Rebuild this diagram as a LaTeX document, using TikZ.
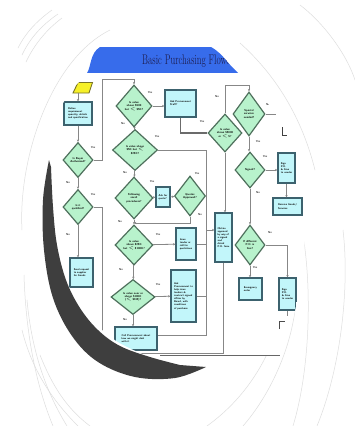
\documentclass[tikz,border=0pt]{standalone}
\usetikzlibrary{arrows.meta,shapes.geometric}
\definecolor{hdr}{RGB}{55,108,235}
\definecolor{hdrtxt}{RGB}{30,32,85}
\definecolor{dfill}{RGB}{184,242,204}
\definecolor{ddraw}{RGB}{78,112,92}
\definecolor{bfill}{RGB}{194,246,250}
\definecolor{bdraw}{RGB}{60,98,110}
\definecolor{lne}{RGB}{135,135,135}
\definecolor{shadowc}{RGB}{62,62,62}
\definecolor{faint}{RGB}{222,222,222}
\definecolor{ylw}{RGB}{246,240,40}
\definecolor{ylwd}{RGB}{120,115,40}
\newcommand{\tinyfnt}{\fontsize{2.6}{3.1}\selectfont\sffamily\bfseries}
\newcommand{\dfnt}{\fontsize{2.8}{3.3}\selectfont\sffamily\bfseries}
\newcommand{\lblfnt}{\fontsize{2.8}{3.2}\selectfont\sffamily\bfseries}
\tikzset{
  dia/.style={diamond, draw=ddraw, fill=dfill, line width=1.2pt, inner sep=0pt, align=center, font=\dfnt},
  bx/.style={rectangle, draw=bdraw, fill=bfill, line width=1.1pt, inner sep=1pt, align=left, font=\tinyfnt},
  con/.style={draw=lne, line width=0.8pt},
  arr/.style={con, -{Stealth[length=2.4pt,width=2.2pt]}},
  lbl/.style={font=\lblfnt, inner sep=0pt, text=black!80},
  farc/.style={draw=faint, line width=0.5pt},
}
\begin{document}
\begin{tikzpicture}[x=1pt,y=-1pt]
\useasboundingbox (0,0) rectangle (355,426);
\fill[white] (0,0) rectangle (355,426);
% faint background arcs
\draw[farc] (18,48) .. controls (26,32) and (38,20) .. (52,10);
\draw[farc] (22,55) .. controls (30,38) and (42,25) .. (58,14);
\draw[farc] (26,62) .. controls (34,45) and (46,30) .. (62,18);
\draw[farc] (22,230) .. controls (18,160) and (50,60) .. (110,30);
\draw[farc] (300,5) .. controls (320,20) and (345,50) .. (355,80);
\draw[farc] (240,43) .. controls (270,70) and (300,110) .. (315,170);
\draw[farc] (207,426) .. controls (250,395) and (275,350) .. (285,300);
\draw[farc] (243,426) .. controls (270,395) and (290,350) .. (295,310);
\draw[farc] (293,426) .. controls (310,370) and (312,290) .. (303,235);
\draw[farc] (317,426) .. controls (340,370) and (350,290) .. (343,230);
\draw[farc] (24,275) .. controls (26,340) and (38,390) .. (53,426);
\draw[farc] (27,300) .. controls (32,355) and (48,395) .. (67,426);
\draw[farc] (22,330) .. controls (32,370) and (52,400) .. (78,426);
\draw[farc] (40,355) .. controls (52,385) and (66,408) .. (90,426);
% picture
\begin{scope}
\clip plot[smooth, tension=0.6] coordinates {(280,355) (290,330) (298,295) (304,250) (306,205) (300,165) (285,128) (262,97) (235,70) (207,45) (150,33) (100,47) (87,73) (72,90) (60,110) (52,140) (49,170) (50,207) (55,240) (64,275) (78,302) (96,324) (118,342) (145,355)} -- cycle;
\fill[white] (0,0) rectangle (355,426);
\fill[hdr] (40,47) rectangle (300,73);
\node[anchor=west, inner sep=0pt, text=hdrtxt, font=\fontsize{14}{14}\selectfont] (title) at (142,61) {\scalebox{0.62}[1]{Basic Purchasing Flowchart}};
% start shape
\filldraw[draw=ylwd, fill=ylw, line width=0.9pt] (73,93) -- (78,82.5) -- (92.5,82.5) -- (89,93) -- cycle;
\coordinate (par) at (78,93);
% nodes
\node[bx, minimum width=28pt, minimum height=23pt] (b1) at (78,113.5) {Define\\requirement\\quantity, details\\and specification};
\node[dia, minimum width=30pt, minimum height=35pt] (d1) at (78,160) {Is Buyer\\Authorised?};
\node[dia, minimum width=30pt, minimum height=35pt] (d2) at (78,207) {Is it\\qualified?};
\node[bx, minimum width=23pt, minimum height=29pt] (b2) at (81.5,272.5) {Send request\\to supplier\\for Goods};
\node[dia, minimum width=36pt, minimum height=42pt] (dA) at (134,106) {Is value\\above \$500\\but $<$ \$5K?};
\node[dia, minimum width=45pt, minimum height=41pt] (dB) at (135,150) {Is value above\\\$5K but $<$\\\$25K?};
\node[dia, minimum width=38pt, minimum height=42pt] (dC) at (134,198) {Following\\small\\procedures?};
\node[bx, minimum width=14pt, minimum height=20pt] (bq) at (163,197) {Ask for\\quote?};
\node[dia, minimum width=31pt, minimum height=40pt] (dG) at (190,196) {Quotes\\Approved?};
\node[dia, minimum width=38pt, minimum height=40pt] (dD) at (134,245) {Is value\\above \$25K\\but $<$ \$100K?};
\node[bx, minimum width=20pt, minimum height=32pt] (bi) at (186,244) {Issue\\tender or\\call for\\quotations};
\node[dia, minimum width=44pt, minimum height=35pt] (dE) at (133,297) {Is value over or\\above \$100K\\($<$ \$1M)?};
\node[bx, minimum width=25pt, minimum height=52pt] (bt) at (183.5,296) {Ask\\Procurement to\\help issue\\tenders \&\\contract signed\\officer by\\Board, with\\conditions\\of purchase};
\node[bx, minimum width=42pt, minimum height=23pt] (bb) at (136,338.5) {Call Procurement about\\how we might deal\\with it};
\node[bx, minimum width=31pt, minimum height=27pt] (bp) at (180.5,103.5) {Ask Procurement\\Staff?};
\node[dia, minimum width=34pt, minimum height=38pt] (dF) at (225,133) {Is value\\above \$5000\\or $<$ \$?};
\node[dia, minimum width=32pt, minimum height=44pt] (dH) at (249,114) {Special\\services\\needed?};
\node[bx, minimum width=17pt, minimum height=49pt] (bo) at (223.5,237.5) {Obtain\\approval\\by way of\\a signed\\and\\dated\\P.O. form};
\node[dia, minimum width=30pt, minimum height=36pt] (dI) at (250,170) {Signed?};
\node[bx, minimum width=17pt, minimum height=30pt] (bj) at (286.5,168) {Sign\\P.O.\\\& Give\\to vendor};
\node[bx, minimum width=29pt, minimum height=17pt] (bk) at (287.5,206.5) {Receive Goods/\\Services};
\node[dia, minimum width=30pt, minimum height=40pt] (dL) at (250,245) {If different\\P.O. is\\fine?};
\node[bx, minimum width=23pt, minimum height=22pt] (bn) at (250.5,289) {Emergency\\order};
\node[bx, minimum width=17pt, minimum height=32pt] (bm) at (287.5,294) {Sign\\P.O.\\\& Give\\to vendor};
% coordinates
\coordinate (t1) at (102,79);
\coordinate (bl) at (102,353);
\coordinate (br) at (223.5,353);
\coordinate (v1) at (206,150);
\coordinate (v2) at (206,335);
\coordinate (vb) at (206,230);
\coordinate (g1) at (190,223);
\coordinate (g2) at (134,223);
\coordinate (f1) at (225,85);
\coordinate (f2) at (249,85);
\coordinate (h1) at (276,114);
\coordinate (m1) at (287.5,316);
% connectors
\draw[arr] (par) -- (par |- b1.north);
\draw[arr] (b1) -- (d1);
\draw[arr] (d1) -- (d2);
\draw[arr] (d2.south) -- (d2.south |- b2.north);
\draw[arr] (d1.east) -| (t1) -| (dA.north);
\draw[con] (bo.south) -- (br) -- (bl) |- (d2.east);
\draw[arr] (dA) -- (dB);
\draw[arr] (dA.east) -- (dA.east -| bp.west);
\draw[con, line width=1.4pt, draw=black!58] (bp.south) |- (dF.west);
\draw[arr] (dB) -- (dC);
\draw[con] (dB.east) -- (v1) -- (v2) -- (bb.east |- v2);
\draw[arr] (vb) -- (bo.west |- vb);
\draw[arr] (dC) -- (bq);
\draw[arr] (bq) -- (dG);
\draw[con] (dG.east) -- (dG.east -| v1);
\draw[arr] (dG.south) -- (g1) -- (g2);
\draw[arr] (dC) -- (dD);
\draw[arr] (dD) -- (bi);
\draw[con] (bi.east) -- (bi.east -| v1);
\draw[arr] (dD) -- (dE);
\draw[arr] (dE) -- (bt);
\draw[con] (bt.east) -- (bt.east -| v1);
\draw[arr] (dE.south) -- (dE.south |- bb.north);
\draw[arr] (dF.north) -- (f1) -- (f2) -- (dH.north);
\draw[arr] (dF.south) -- (dF.south |- bo.north);
\draw[con] (dH.east) -- (h1);
\draw[arr] (dH.south) -- (dH.south |- dI.north);
\draw[arr] (dI.east) -- (dI.east -| bj.west);
\draw[arr] (bj.south) -- (bj.south |- bk.north);
\draw[arr] (dI) -- (dL);
\draw[arr] (dL.east) -| (bm.north);
\draw[arr] (dL.south) -- (dL.south |- bn.north);
\draw[con] (bm.south) -- (m1);
\draw[black!70, line width=0.8pt] (279,329) -- (279,321) -- (285,321);
\draw[black!75, line width=0.9pt] (282,127) -- (282,135) -- (287,135);
% labels
\node[lbl] (l1) at (68,183) {No};
\node[lbl] (l2) at (93,148) {Yes};
\node[lbl] (l3) at (93,195) {Yes};
\node[lbl] (l4) at (68,235) {No};
\node[lbl] (l5) at (123,124) {No};
\node[lbl] (l6) at (150,93) {Yes};
\node[lbl] (l7) at (157,137) {Yes};
\node[lbl] (l8) at (125,173) {No};
\node[lbl] (l9) at (152,182) {Yes};
\node[lbl] (l10) at (197,174) {Yes};
\node[lbl] (l11) at (200,215) {No};
\node[lbl] (l12) at (120,222) {No};
\node[lbl] (l13) at (158,235) {Yes};
\node[lbl] (l14) at (121,270) {No};
\node[lbl] (l15) at (158,285) {Yes};
\node[lbl] (l16) at (125,320) {No};
\node[lbl] (l17) at (202,122) {Yes};
\node[lbl] (l18) at (217,97) {No};
\node[lbl] (l19) at (268,105) {No};
\node[lbl] (l20) at (258,142) {Yes};
\node[lbl] (l21) at (265,157) {Yes};
\node[lbl] (l22) at (258,193) {No};
\node[lbl] (l23) at (270,233) {No};
\node[lbl] (l24) at (255,268) {Yes};
\end{scope}
\draw[black!60, line width=1.2pt] (160,355.5) -- (280,355.5);
% crescent shadow
\fill[shadowc] plot[smooth, tension=0.6] coordinates {(49,160) (43,200) (44,250) (53,298) (72,336) (98,362) (135,377) (175,378) (206,367)} -- plot[smooth, tension=0.6] coordinates {(180,365) (150,357) (120,346) (98,330) (80,308) (66,280) (57,245) (53,207) (51,167)} -- cycle;
\end{tikzpicture}
\end{document}
